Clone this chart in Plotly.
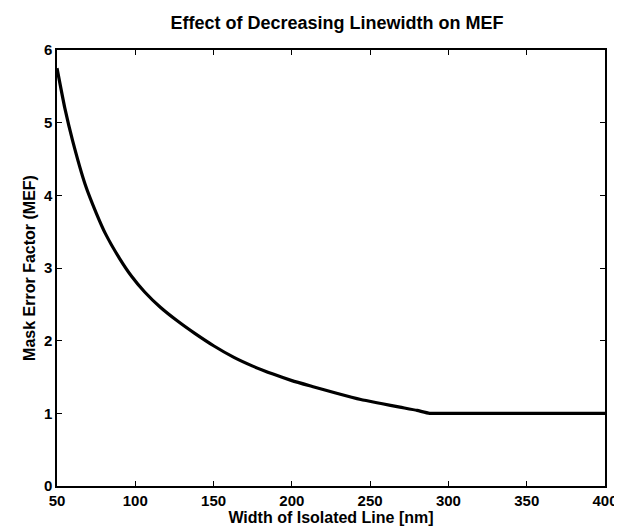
import plotly.graph_objects as go

# Data
width_nm = [50, 55, 60, 68, 75, 81, 90, 97.5, 106, 116, 127, 138, 150, 163, 175,
            188, 200, 213, 228, 244, 257, 269, 280, 288, 300, 350, 400]
mef = [5.75, 5.2, 4.75, 4.15, 3.76, 3.47, 3.13, 2.89, 2.67, 2.46, 2.27, 2.10, 1.93, 1.77, 1.65,
       1.54, 1.45, 1.37, 1.28, 1.19, 1.135, 1.085, 1.04, 1.0, 1.0, 1.0, 1.0]

x_ticks = [50, 100, 150, 200, 250, 300, 350, 400]
y_ticks = [0, 1, 2, 3, 4, 5, 6]

FONT = "Liberation Sans, Arial, sans-serif"

fig = go.Figure()
fig.add_trace(go.Scatter(x=width_nm, y=mef, mode="lines",
                         line=dict(color="black", width=3.2, shape="spline", smoothing=0.5),
                         showlegend=False, hoverinfo="skip"))

axis_common = dict(showgrid=False, zeroline=False, showline=True, linecolor="black", linewidth=1.5,
                   mirror="ticks", ticks="inside", ticklen=5, tickwidth=1.2, tickcolor="black",
                   tickfont=dict(family=FONT, size=15, color="black", weight="bold"))

fig.update_layout(
    width=622, height=526,
    margin=dict(l=49, r=13, t=42, b=48),
    paper_bgcolor="white", plot_bgcolor="white",
    title=dict(text="Effect of Decreasing Linewidth on MEF", x=0.529, xanchor="center",
               y=0.972, yanchor="middle",
               font=dict(family=FONT, size=18, color="black", weight="bold")),
    xaxis=dict(range=[50, 400], tickvals=x_ticks, ticktext=[str(v) for v in x_ticks],
               title=dict(text="Width of Isolated Line [nm]", standoff=2,
                          font=dict(family=FONT, size=16, color="black", weight="bold")),
               **axis_common),
    yaxis=dict(range=[0, 6], tickvals=y_ticks, ticktext=[str(v) for v in y_ticks],
               title=dict(text="Mask Error Factor (MEF)", standoff=4,
                          font=dict(family=FONT, size=16, color="black", weight="bold")),
               **axis_common),
)

fig.write_html("out.html")
